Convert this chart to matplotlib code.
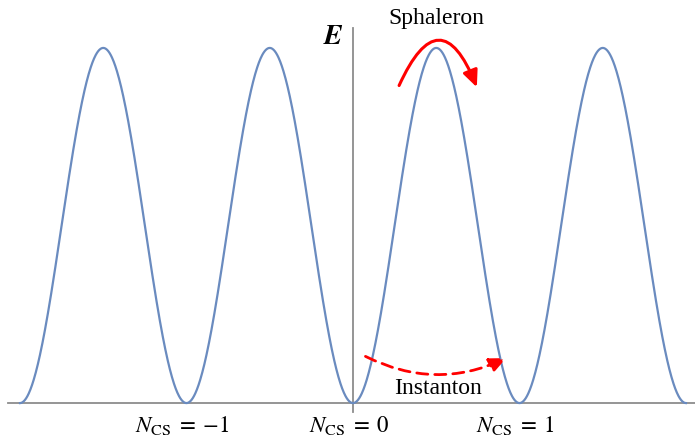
import numpy as np
import matplotlib.pyplot as plt
from matplotlib.patches import FancyArrowPatch

plt.rcParams['mathtext.fontset'] = 'stix'
plt.rcParams['font.family'] = ['Liberation Serif', 'DejaVu Serif']

# energy landscape E(N_CS), periodic in the Chern-Simons number
n_range = [-2.0, 2.0]
barrier_height = 1.0
tick_values = [-1, 0, 1]
tick_labels = [r'$N_{\mathrm{CS}}\;=\;{-1}$', r'$N_{\mathrm{CS}}\;=\;0$', r'$N_{\mathrm{CS}}\;=\;1$']

# arrow endpoints (N, E)
sphaleron_start = (0.27, 0.887)
sphaleron_end = (0.75, 0.882)
instanton_start = (0.06, 0.135)
instanton_end = (0.935, 0.130)

N = np.linspace(n_range[0], n_range[1], 1601)
E = barrier_height * np.sin(np.pi * N) ** 2

fig = plt.figure(figsize=(6.95, 4.4), dpi=100)
ax = fig.add_axes([0, 0, 1, 1])
ax.set_xlim(-2.12, 2.054)
ax.set_ylim(-0.104, 1.135)
ax.axis('off')

axis_col = '#8c8c8c'
ax.plot([-2.072, 2.06], [0, 0], color=axis_col, lw=1.3, zorder=1)
ax.plot([0, 0], [-0.025, 1.056], color=axis_col, lw=1.3, zorder=1)

ax.plot(N, E, color='#6a8bbf', lw=1.6, zorder=2)

ax.text(-0.12, 1.03, r'$\mathbfit{E}$', fontsize=20, ha='center', va='center')

for v, lab in zip(tick_values, tick_labels):
    ax.text(v - 0.025, -0.064, lab, fontsize=16.5, ha='center', va='center')

ax.text(0.5, 1.083, 'Sphaleron', fontsize=17, ha='center', va='center')
ax.text(0.51, 0.042, 'Instanton', fontsize=17, ha='center', va='center')

sph = FancyArrowPatch(sphaleron_start, sphaleron_end,
                      connectionstyle='arc3,rad=-1.2',
                      arrowstyle='-|>,head_length=10,head_width=4.5',
                      color='red', lw=2.2, zorder=3)
ax.add_patch(sph)

ins = FancyArrowPatch(instanton_start, instanton_end,
                      connectionstyle='arc3,rad=0.25',
                      arrowstyle='-|>,head_length=10,head_width=4.5',
                      color='red', lw=2.0, linestyle=(0, (4, 2.5)), zorder=3)
ax.add_patch(ins)

fig.savefig('out.png', dpi=100)
